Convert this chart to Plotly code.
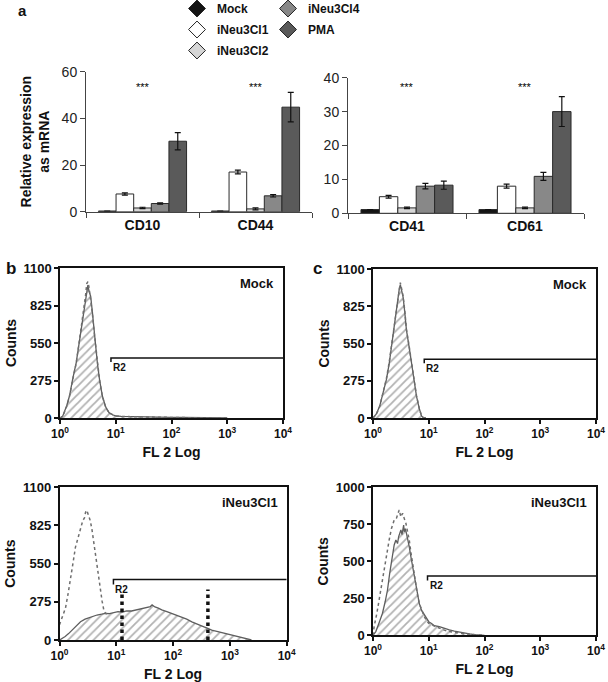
import numpy as np
import plotly.graph_objects as go

W, H = 608, 682

# ---------------- Panel a: relative mRNA expression ----------------
series = ["Mock", "iNeu3Cl1", "iNeu3Cl2", "iNeu3Cl4", "PMA"]
cats_left = ["CD10", "CD44"]
cats_right = ["CD41", "CD61"]
# values ordered CD10, CD44, CD41, CD61
mock_vals = [0.3, 0.3, 1.1, 1.1]
cl1_vals = [7.6, 17.0, 4.9, 8.0]
cl2_vals = [1.6, 1.2, 1.6, 1.6]
cl4_vals = [3.5, 6.8, 8.0, 10.9]
pma_vals = [30.2, 44.8, 8.3, 30.0]
mock_err = [0.0, 0.0, 0.0, 0.0]
cl1_err = [0.5, 0.8, 0.4, 0.6]
cl2_err = [0.3, 0.4, 0.2, 0.2]
cl4_err = [0.3, 0.5, 0.8, 1.2]
pma_err = [3.7, 6.3, 1.2, 4.4]
sig_left = ["***", "***"]
sig_right = ["***", "***"]
sig_level_left = 53.5
sig_level_right = 37.3

bar_colors = ["#141414", "#ffffff", "#d6d6d6", "#888888", "#5a5a5a"]
all_vals = [mock_vals, cl1_vals, cl2_vals, cl4_vals, pma_vals]
all_errs = [mock_err, cl1_err, cl2_err, cl4_err, pma_err]

# ---------------- Panels b/c: flow cytometry histograms ----------------
# FL2 positions given in decades (log10 of FL2 channel value)
b_mock_dec = [0.0, 0.05, 0.12, 0.17, 0.23, 0.29, 0.34, 0.38, 0.42, 0.46, 0.48, 0.50, 0.52, 0.55, 0.58,
              0.61, 0.64, 0.67, 0.71, 0.76, 0.82, 0.88, 0.95, 1.0, 1.1, 1.25, 1.4, 1.6, 1.8, 2.0, 2.2,
              2.5, 2.8, 3.0]
b_mock_solid = [0, 15, 90, 161, 290, 405, 540, 649, 780, 893, 950, 975, 930, 893, 780,
                649, 520, 405, 280, 161, 80, 39, 22, 15, 12, 10, 8, 7, 6, 5, 4,
                3, 2, 0]
b_mock_dotted = [0, 12, 85, 158, 285, 400, 545, 655, 790, 905, 985, 1000, 960, 880, 770,
                 640, 515, 400, 275, 158, 78, 37, 20, 14, 11, 9, 8, 6, 5, 4, 3,
                 2, 1, 0]

c_mock_dec = [0.0, 0.06, 0.12, 0.18, 0.24, 0.29, 0.33, 0.37, 0.41, 0.44, 0.47, 0.49, 0.51, 0.54,
              0.57, 0.6, 0.65, 0.69, 0.74, 0.78, 0.83, 0.87, 0.9, 0.95]
c_mock_solid = [0, 30, 88, 180, 283, 400, 527, 650, 771, 870, 950, 985, 940, 893,
                780, 649, 520, 405, 270, 161, 70, 15, 3, 0]
c_mock_dotted = [0, 28, 85, 178, 290, 410, 535, 660, 780, 880, 965, 1000, 960, 900,
                 790, 655, 525, 410, 275, 165, 72, 17, 4, 0]

b_cl1_dec = [0.0, 0.05, 0.1, 0.16, 0.22, 0.28, 0.33, 0.37, 0.45, 0.52, 0.6, 0.66, 0.74, 0.81, 0.88,
             0.95, 1.03, 1.1, 1.18, 1.27, 1.36, 1.45, 1.54, 1.6, 1.63, 1.68, 1.74, 1.8, 1.89, 1.98,
             2.07, 2.15, 2.24, 2.33, 2.42, 2.5, 2.6, 2.68, 2.77, 2.85, 2.94, 3.03, 3.12, 3.2, 3.26,
             3.32, 3.38]
b_cl1_solid = [0, 10, 25, 46, 70, 95, 115, 131, 150, 161, 172, 180, 186, 192, 190,
               197, 205, 200, 210, 209, 218, 224, 232, 241, 253, 238, 230, 217, 205, 192,
               180, 168, 150, 131, 118, 102, 85, 71, 62, 54, 46, 39, 30, 22, 14,
               5, 0]
b_cl1_dotted_dec = [0.0, 0.05, 0.105, 0.15, 0.19, 0.24, 0.28, 0.33, 0.37, 0.41, 0.44, 0.46, 0.48,
                    0.51, 0.54, 0.57, 0.6, 0.63, 0.66, 0.69, 0.72, 0.75, 0.78, 0.81, 0.85]
b_cl1_dotted = [110, 160, 229, 330, 448, 560, 667, 740, 813, 860, 880, 922, 935,
                905, 862, 800, 716, 620, 521, 430, 350, 280, 217, 192, 188]
b_cl1_markers = [12.6, 410.0]
b_cl1_marker_top = [338, 363]

c_cl1_dec = [0.0, 0.05, 0.11, 0.17, 0.22, 0.26, 0.3, 0.35, 0.38, 0.41, 0.44, 0.46, 0.48, 0.5, 0.52,
             0.53, 0.55, 0.56, 0.58, 0.6, 0.63, 0.65, 0.68, 0.71, 0.74, 0.77, 0.8, 0.83, 0.87, 0.92,
             0.96, 1.0, 1.05, 1.1, 1.19, 1.28, 1.37, 1.46, 1.55, 1.64, 1.73, 1.82, 1.9, 2.0]
c_cl1_solid = [0, 25, 85, 149, 230, 306, 420, 554, 610, 644, 620, 667, 690, 712, 680,
               700, 745, 700, 720, 689, 640, 599, 530, 464, 400, 329, 270, 216, 170, 137,
               110, 92, 80, 65, 59, 45, 36, 28, 20, 14, 9, 5, 2, 0]
c_cl1_dotted_dec = [0.0, 0.02, 0.07, 0.11, 0.15, 0.2, 0.25, 0.29, 0.33, 0.38, 0.42, 0.45, 0.47, 0.5,
                    0.53, 0.56, 0.59, 0.62, 0.65, 0.68, 0.71, 0.74, 0.77, 0.8, 0.83, 0.87, 0.92,
                    0.96, 1.0, 1.1, 1.19, 1.28, 1.37, 1.46, 1.55, 1.64, 1.73, 1.82, 1.9, 2.0]
c_cl1_dotted = [0, 59, 150, 239, 350, 464, 560, 644, 720, 779, 790, 830, 847, 800,
                824, 790, 757, 700, 644, 560, 486, 400, 329, 270, 216, 170, 126,
                100, 81, 62, 47, 35, 25, 19, 14, 10, 7, 4, 2, 0]

# R2 gates: start channel, level (counts)
gate_start = {"b_top": 8.2, "c_top": 8.3, "b_bot": 8.9, "c_bot": 9.5}
gate_level = {"b_top": 440, "c_top": 434, "b_bot": 436, "c_bot": 401}
gate_drop = {"b_top": 30, "c_top": 30, "b_bot": 37, "c_bot": 30}

fl2_ticks = [1, 10, 100, 1000, 10000]
fl2_ticktext = ["10<sup>0</sup>", "10<sup>1</sup>", "10<sup>2</sup>", "10<sup>3</sup>", "10<sup>4</sup>"]
counts_ticks_1100 = [0, 275, 550, 825, 1100]
counts_ticks_1000 = [0, 250, 500, 750, 1000]

FONT = "Arial, Liberation Sans, sans-serif"


def xd(a, b):
    return [a / W, b / W]


def yd(top, bottom):
    return [1 - bottom / H, 1 - top / H]


fig = go.Figure()

# ---- bars
for i, s in enumerate(series):
    for ax, sl, cats in (("", slice(0, 2), cats_left), ("2", slice(2, 4), cats_right)):
        fig.add_trace(go.Bar(
            x=cats, y=all_vals[i][sl], name=s, showlegend=False,
            marker=dict(color=bar_colors[i], line=dict(color="#2a2a2a", width=1)),
            error_y=dict(type="data", array=all_errs[i][sl], visible=True,
                         color="#111111", thickness=1.2, width=3),
            xaxis="x" + ax, yaxis="y" + ax,
        ))

# ---- legend entries (diamonds)
for i, s in enumerate(series):
    fig.add_trace(go.Scatter(
        x=[None], y=[None], mode="markers", name=s,
        marker=dict(symbol="diamond", size=13, color=bar_colors[i],
                    line=dict(color="#222222", width=1)),
        legend="legend" if i < 3 else "legend2", legendgroup=s,
        xaxis="x", yaxis="y",
    ))

# ---- histograms
def hist(dec, solid, dotted_dec, dotted, ax):
    x_s = 10 ** np.array(dec)
    x_d = 10 ** np.array(dotted_dec)
    fig.add_trace(go.Scatter(
        x=x_s, y=solid, mode="lines", showlegend=False,
        line=dict(color="#5e5e5e", width=1.3),
        fill="tozeroy", fillcolor="white",
        fillpattern=dict(shape="/", fgcolor="#666666", bgcolor="white", size=6, solidity=0.3),
        xaxis="x" + ax, yaxis="y" + ax,
    ))
    fig.add_trace(go.Scatter(
        x=x_d, y=dotted, mode="lines", showlegend=False,
        line=dict(color="#6e6e6e", width=1.5, dash="dot"),
        xaxis="x" + ax, yaxis="y" + ax,
    ))


def gate(key, ax):
    g0, gl, gd = gate_start[key], gate_level[key], gate_drop[key]
    fig.add_trace(go.Scatter(
        x=[g0, g0, 10 ** 4], y=[gl - gd, gl, gl], mode="lines", showlegend=False,
        line=dict(color="#111111", width=1.5), xaxis="x" + ax, yaxis="y" + ax,
    ))
    fig.add_annotation(x=np.log10(g0), y=gl - gd * 0.4, xref="x" + ax, yref="y" + ax,
                       text="R2", showarrow=False, xanchor="left", yanchor="top",
                       font=dict(size=10, weight="bold", color="#111"), xshift=0)


hist(b_mock_dec, b_mock_solid, b_mock_dec, b_mock_dotted, "3")
hist(c_mock_dec, c_mock_solid, c_mock_dec, c_mock_dotted, "4")
hist(b_cl1_dec, b_cl1_solid, b_cl1_dotted_dec, b_cl1_dotted, "5")
hist(c_cl1_dec, c_cl1_solid, c_cl1_dotted_dec, c_cl1_dotted, "6")

for mx, mt in zip(b_cl1_markers, b_cl1_marker_top):
    fig.add_trace(go.Scatter(x=[mx, mx], y=[0, mt], mode="lines", showlegend=False,
                             line=dict(color="#111111", width=3.5, dash="dot"),
                             xaxis="x5", yaxis="y5"))

gate("b_top", "3")
gate("c_top", "4")
gate("b_bot", "5")
gate("c_bot", "6")

# ---- axes
bar_x = dict(type="category", range=[-0.5, 1.5], showline=True, linecolor="#444", linewidth=1,
             tickson="boundaries", ticks="outside", ticklen=5, tickcolor="#444",
             tickfont=dict(size=14, weight="bold", color="#111"), showgrid=False, zeroline=False,
             automargin=False)
bar_y = dict(showline=True, linecolor="#444", linewidth=1, ticks="outside", ticklen=5,
             tickcolor="#444", tickfont=dict(size=14, color="#222"), showgrid=False, zeroline=False,
             automargin=False)

hx = dict(type="log", range=[0, 4], tickvals=fl2_ticks, ticktext=fl2_ticktext,
          showline=True, mirror=True, linecolor="#111", linewidth=1.5, ticks="outside",
          ticklen=4, tickwidth=1.5, tickcolor="#111", showgrid=False, zeroline=False,
          tickfont=dict(size=12, weight="bold", color="#111"), automargin=False,
          ticklabeloverflow="allow",
          title=dict(text="FL 2 Log", font=dict(size=14, weight="bold", color="#111"), standoff=7))
hy = dict(showline=True, mirror=True, linecolor="#111", linewidth=1.5, ticks="outside",
          ticklen=4, tickwidth=1.5, tickcolor="#111", showgrid=False, zeroline=False,
          tickfont=dict(size=13, weight="bold", color="#111"), automargin=False,
          title=dict(text="Counts", font=dict(size=14, weight="bold", color="#111"), standoff=4))

fig.update_layout(
    xaxis=dict(bar_x, domain=xd(86, 312), anchor="y"),
    yaxis=dict(bar_y, domain=yd(71.7, 211.7), range=[0, 60], dtick=20, anchor="x",
               title=dict(text="Relative expression<br>as mRNA",
                          font=dict(size=14, weight="bold", color="#111"), standoff=8)),
    xaxis2=dict(bar_x, domain=xd(348, 584), anchor="y2"),
    yaxis2=dict(bar_y, domain=yd(77.7, 213.3), range=[0, 40], dtick=10, anchor="x2"),
    xaxis3=dict(hx, domain=xd(60, 283), anchor="y3"),
    yaxis3=dict(hy, domain=yd(268, 418), range=[0, 1100], tickvals=counts_ticks_1100, anchor="x3"),
    xaxis4=dict(hx, domain=xd(373, 596), anchor="y4"),
    yaxis4=dict(hy, domain=yd(269, 418), range=[0, 1100], tickvals=counts_ticks_1100, anchor="x4"),
    xaxis5=dict(hx, domain=xd(59.5, 286.7), anchor="y5"),
    yaxis5=dict(hy, domain=yd(487.3, 640), range=[0, 1100], tickvals=counts_ticks_1100, anchor="x5"),
    xaxis6=dict(hx, domain=xd(373, 596), anchor="y6"),
    yaxis6=dict(hy, domain=yd(487.3, 635.3), range=[0, 1000], tickvals=counts_ticks_1000, anchor="x6"),
)

# ---- annotations
for cats, sig, lvl, xa in ((cats_left, sig_left, sig_level_left, "x"),
                           (cats_right, sig_right, sig_level_right, "x2")):
    for c, t in zip(cats, sig):
        fig.add_annotation(x=c, y=lvl, xref=xa, yref="y" if xa == "x" else "y2", text=t,
                           showarrow=False, font=dict(size=11, color="#000000"))

for ax, lab in (("3", "Mock"), ("4", "Mock"), ("5", "iNeu3Cl1"), ("6", "iNeu3Cl1")):
    fig.add_annotation(x=0.97, y=0.96, xref="x" + ax + " domain", yref="y" + ax + " domain",
                       text=lab, showarrow=False, xanchor="right", yanchor="top",
                       font=dict(size=13, weight="bold", color="#111"))

fig.add_annotation(x=22 / W, y=1.0, xref="paper", yref="paper", text="a",
                   showarrow=False, xanchor="center", yanchor="top",
                   font=dict(size=15, weight="bold", color="#111"))
for lab, px, py in (("b", 11, 268), ("c", 317, 268)):
    fig.add_annotation(x=px / W, y=1 - py / H, xref="paper", yref="paper", text=lab,
                       showarrow=False, xanchor="center", yanchor="middle",
                       font=dict(size=17, weight="bold", color="#111"))

legend_common = dict(yanchor="top", xanchor="left", orientation="v",
                     font=dict(size=12, weight="bold", color="#111", family=FONT),
                     traceorder="grouped", tracegroupgap=2, itemwidth=30,
                     bgcolor="rgba(0,0,0,0)", borderwidth=0, itemsizing="trace")

fig.update_layout(
    width=W, height=H, margin=dict(l=0, r=0, t=0, b=0, autoexpand=False),
    paper_bgcolor="white", plot_bgcolor="white",
    font=dict(family=FONT, color="#111"),
    barmode="group", bargap=0.22, bargroupgap=0,
    showlegend=True,
    legend=dict(legend_common, x=177 / W, y=1.0 + 6 / H),
    legend2=dict(legend_common, x=268 / W, y=1.0 + 6 / H),
)

fig.write_html("out.html", config={"displayModeBar": False},
               post_script="document.body.style.margin='0px';document.body.style.overflow='hidden';")
